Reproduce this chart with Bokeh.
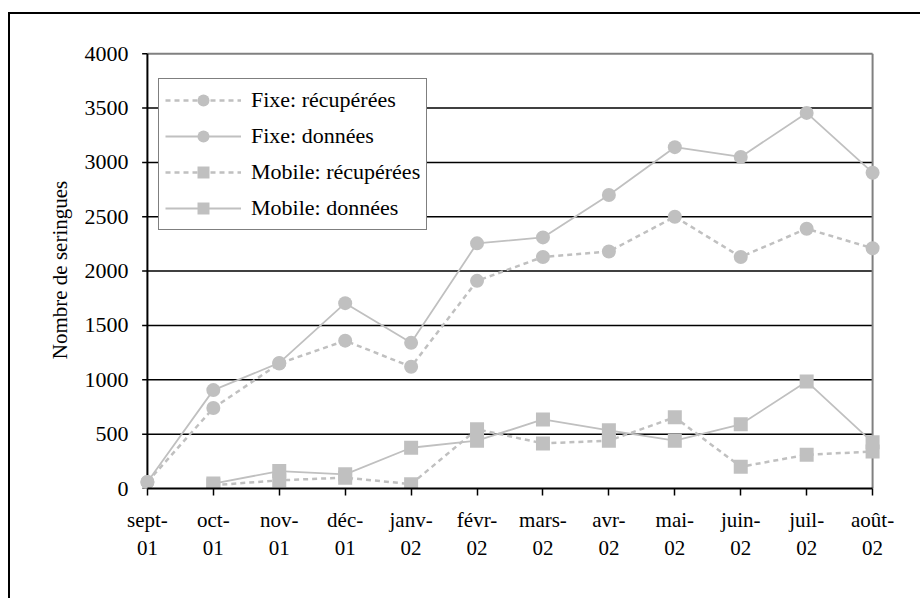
import numpy as np
from bokeh.plotting import figure
from bokeh.models import Range1d, FixedTicker, Legend, LegendItem
from bokeh.embed import file_html
from bokeh.resources import INLINE

# ---- data ----
months = ["sept-\n01", "oct-\n01", "nov-\n01", "déc-\n01", "janv-\n02", "févr-\n02",
          "mars-\n02", "avr-\n02", "mai-\n02", "juin-\n02", "juil-\n02", "août-\n02"]
fixe_recuperees = [60, 740, 1150, 1360, 1120, 1910, 2130, 2180, 2500, 2130, 2390, 2210]
fixe_donnees = [60, 905, 1155, 1705, 1340, 2255, 2310, 2700, 3140, 3050, 3455, 2905]
mobile_recuperees = [np.nan, 30, 75, 100, 40, 545, 415, 440, 655, 200, 310, 340]
mobile_donnees = [np.nan, 45, 160, 130, 375, 440, 635, 535, 440, 590, 985, 425]
y_ticks = [0, 500, 1000, 1500, 2000, 2500, 3000, 3500, 4000]
y_title = "Nombre de seringues"

FONT = "Liberation Serif"
GRAY = "#c0c0c0"
xs = list(range(len(months)))
xmax = len(months) - 1

p = figure(width=912, height=586, output_backend="svg", toolbar_location=None,
           x_range=Range1d(-0.12, xmax + 0.12), y_range=Range1d(0, 4020),
           min_border_left=129, min_border_right=42, min_border_top=37, min_border_bottom=112)
p.styles = {"border-left": "2px solid black", "border-top": "2px solid black",
            "margin-top": "12px", "margin-left": "8px"}
p.outline_line_color = None
p.xgrid.visible = False
p.ygrid.visible = False
p.background_fill_color = "white"

# x axis
xa = p.xaxis[0]
xa.ticker = FixedTicker(ticks=xs)
xa.major_label_overrides = {i: m for i, m in enumerate(months)}
xa.bounds = (0, xmax)
xa.axis_line_color = "black"
xa.axis_line_width = 2
xa.major_tick_line_color = "black"
xa.major_tick_line_width = 1.5
xa.major_tick_out = 7
xa.major_tick_in = 0
xa.minor_tick_line_color = None
xa.major_label_standoff = 12
xa.major_label_text_font = FONT
xa.major_label_text_font_size = "21px"
xa.major_label_text_color = "black"

# y axis (labels only; line/ticks drawn at x=0)
ya = p.yaxis[0]
ya.ticker = FixedTicker(ticks=y_ticks)
ya.axis_line_color = None
ya.major_tick_line_color = None
ya.minor_tick_line_color = None
ya.major_tick_out = 0
ya.major_tick_in = 0
ya.major_label_standoff = 11
ya.major_label_text_font = FONT
ya.major_label_text_font_size = "22px"
ya.major_label_text_color = "black"
ya.axis_label = y_title
ya.axis_label_text_font = FONT
ya.axis_label_text_font_size = "21px"
ya.axis_label_text_font_style = "normal"
ya.axis_label_text_color = "black"
ya.axis_label_standoff = 10

# grid lines, plot-area border, y axis line and ticks
grid_vals = y_ticks[1:-1]
p.segment(x0=[0] * len(grid_vals), x1=[xmax] * len(grid_vals), y0=grid_vals, y1=grid_vals,
          line_color="black", line_width=1.5)
p.segment(x0=[0], x1=[xmax], y0=[y_ticks[-1]], y1=[y_ticks[-1]], line_color="#808080", line_width=2)
p.segment(x0=[xmax], x1=[xmax], y0=[0], y1=[y_ticks[-1]], line_color="#808080", line_width=2)
p.segment(x0=[0], x1=[0], y0=[0], y1=[y_ticks[-1]], line_color="black", line_width=2)
p.segment(x0=[-0.08] * len(y_ticks), x1=[0] * len(y_ticks), y0=y_ticks, y1=y_ticks,
          line_color="black", line_width=1.5)

# series
items = []
specs = [
    ("Fixe: récupérées", fixe_recuperees, "dashed", "circle"),
    ("Fixe: données", fixe_donnees, "solid", "circle"),
    ("Mobile: récupérées", mobile_recuperees, "dashed", "square"),
    ("Mobile: données", mobile_donnees, "solid", "square"),
]
for label, vals, style, marker in specs:
    if style == "dashed":
        ln = p.line(xs, vals, line_color=GRAY, line_width=2.5, line_dash="5 4")
    else:
        ln = p.line(xs, vals, line_color=GRAY, line_width=1.8)
    sc = p.scatter(xs, vals, marker=marker, size=14, fill_color=GRAY, line_color=None)
    items.append(LegendItem(label=label, renderers=[ln, sc]))

legend = Legend(items=items, location=(19, 258))
legend.label_text_font = FONT
legend.label_text_font_size = "22px"
legend.label_text_color = "black"
legend.border_line_color = "black"
legend.border_line_width = 1.5
legend.background_fill_color = "white"
legend.background_fill_alpha = 1
legend.glyph_width = 76
legend.glyph_height = 30
legend.label_height = 30
legend.label_standoff = 10
legend.spacing = 6
legend.padding = 6
legend.margin = 0
p.add_layout(legend, "center")

open("out.html", "w").write(file_html(p, INLINE))
